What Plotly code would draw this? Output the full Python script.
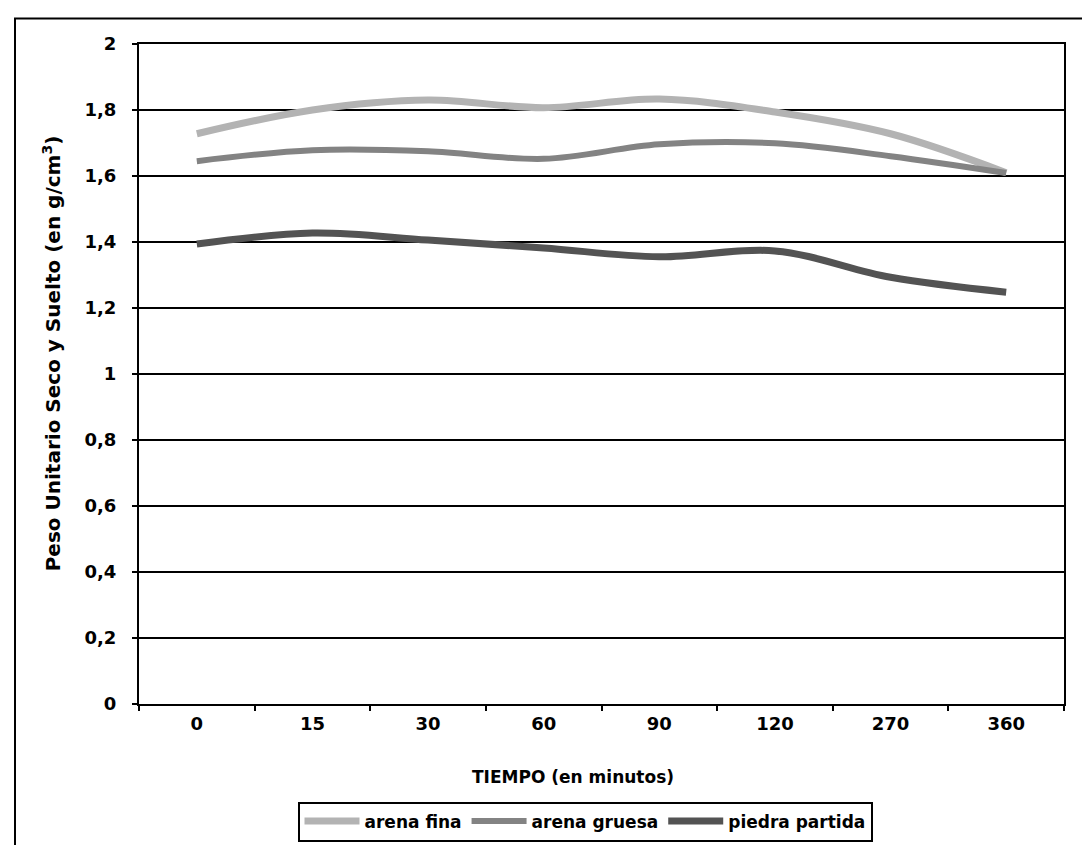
import plotly.graph_objects as go

categorias = ["0", "15", "30", "60", "90", "120", "270", "360"]
arena_fina = [1.728, 1.80, 1.830, 1.807, 1.833, 1.794, 1.728, 1.610]
arena_gruesa = [1.645, 1.678, 1.675, 1.652, 1.696, 1.699, 1.660, 1.609]
piedra_partida = [1.394, 1.427, 1.406, 1.382, 1.355, 1.373, 1.293, 1.248]

W, H = 1090, 845
L, R, T, B = 131, 34, 36, 139
pw, ph = W - L - R, H - T - B

def px(x):
    return (x - L) / pw

def py(y):
    return (H - B - y) / ph

FONT = "DejaVu Sans, Liberation Sans, Arial, sans-serif"

fig = go.Figure()
series = [
    ("arena fina", arena_fina, "#b3b3b3", 7),
    ("arena gruesa", arena_gruesa, "#838383", 6),
    ("piedra partida", piedra_partida, "#535353", 7),
]
for name, vals, col, w in series:
    fig.add_trace(go.Scatter(
        x=categorias, y=vals, name=name, mode="lines",
        line=dict(color=col, width=w, shape="spline", smoothing=1.0),
    ))

fig.update_layout(
    width=W, height=H,
    margin=dict(l=L, r=R, t=T, b=B),
    paper_bgcolor="white", plot_bgcolor="white",
    separators=",.",
    font=dict(family=FONT, size=17, color="black", weight="bold"),
    showlegend=True,
    legend=dict(
        orientation="h", xanchor="center", yanchor="top",
        x=px(577), y=py(805),
        bordercolor="black", borderwidth=2, bgcolor="white",
        font=dict(family=FONT, size=17, color="black", weight="bold"),
        itemwidth=55, tracegroupgap=0,
    ),
    xaxis=dict(
        type="category", range=[-0.5, 7.5],
        showline=True, linecolor="black", linewidth=2, mirror=True,
        ticks="outside", tickson="boundaries", ticklen=5, tickwidth=2, tickcolor="black",
        showgrid=False, zeroline=False,
        tickfont=dict(family=FONT, size=18, weight="bold"),
        ticklabelstandoff=2,
    ),
    yaxis=dict(
        range=[0, 2], dtick=0.2, tick0=0,
        showline=True, linecolor="black", linewidth=2, mirror=True,
        ticks="outside", ticklen=5, tickwidth=2, tickcolor="black",
        showgrid=True, gridcolor="black", gridwidth=1.5, zeroline=False,
        tickfont=dict(family=FONT, size=18, weight="bold"),
        ticklabelstandoff=12,
    ),
    annotations=[
        dict(
            text="TIEMPO (en minutos)", xref="paper", yref="paper",
            x=px(565), y=py(780), xanchor="center", yanchor="middle",
            showarrow=False, font=dict(family=FONT, size=17, weight="bold"),
        ),
        dict(
            text="Peso Unitario Seco y Suelto (en g/cm<sup>3</sup>)",
            xref="paper", yref="paper", textangle=-90,
            x=px(44), y=py(350), xanchor="center", yanchor="middle",
            showarrow=False, font=dict(family=FONT, size=20, weight="bold"),
        ),
    ],
    shapes=[dict(
        type="rect", xref="paper", yref="paper",
        x0=px(7), x1=px(1084), y0=py(10), y1=py(870),
        line=dict(color="black", width=2), fillcolor="rgba(0,0,0,0)", layer="below",
    )],
)

fig.write_html("out.html")
